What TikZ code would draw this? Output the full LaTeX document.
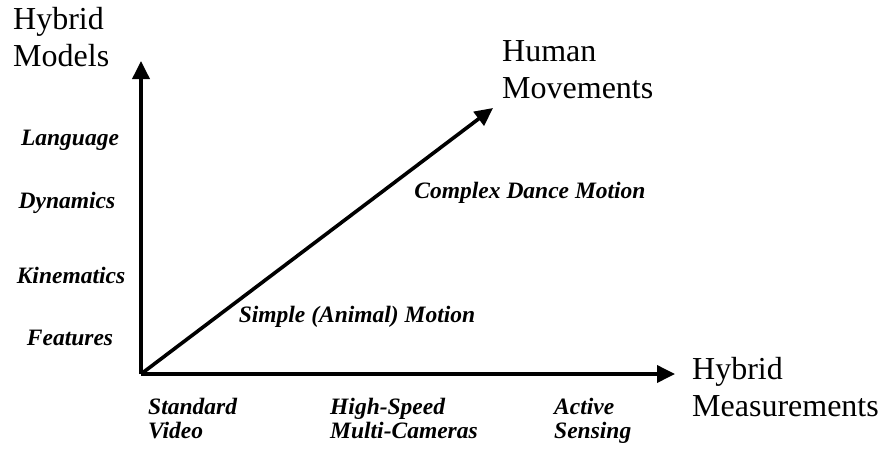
\documentclass[tikz,border=0pt]{standalone}
\usepackage{fontspec}
\setmainfont{Liberation Serif}
\usetikzlibrary{arrows.meta,positioning}

\begin{document}
\begin{tikzpicture}[x=1pt,y=-1pt,
  axis/.style={-{Triangle[length=18pt,width=17pt]},line width=3.6pt,draw=black},
  title/.style={font=\fontsize{32}{37}\selectfont,inner sep=0pt,align=left,anchor=north west},
  tag/.style={font=\fontsize{23.5}{23.5}\selectfont\bfseries\itshape,inner sep=0pt,align=left}]
\useasboundingbox (0,0) rectangle (886,456);
% axes
\coordinate (origin) at (141,374);
\coordinate (ytip) at (141,61);
\coordinate (xtip) at (675,374);
\coordinate (dtip) at (493,108);
\draw[axis](origin)--(ytip);
\draw[axis](origin)--(xtip);
\draw[axis](origin)--(dtip);
% axis titles
\node[title](models) at (13,7){Hybrid\\Models};
\node[title](movements) at (502,40){Human\\Movements};
\node[title](measures) at (692,357){Hybrid\\Measurements};
% vertical axis labels
\node[tag](language) at (70,140){Language};
\node[tag](dynamics) at (67,203){Dynamics};
\node[tag](kinematics) at (71,275){Kinematics};
\node[tag](features) at (70,338){Features};
% horizontal axis labels
\node[tag,anchor=north west](video) at (148,398){Standard\\Video};
\node[tag,anchor=north west](cameras) at (330,398){High-Speed\\Multi-Cameras};
\node[tag,anchor=north west](sensing) at (554,398){Active\\Sensing};
% diagonal labels
\node[tag](simple) at (357,317){Simple (Animal) Motion};
\node[tag](complex) at (530,193){Complex Dance Motion};
\end{tikzpicture}
\end{document}
